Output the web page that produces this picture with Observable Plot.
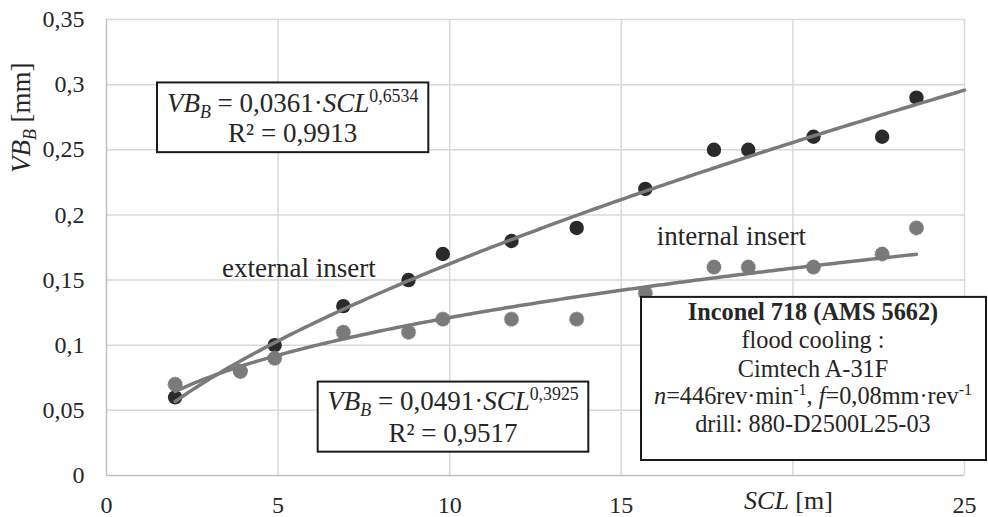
<!DOCTYPE html>
<html>
<head>
<meta charset="utf-8">
<script src="https://cdn.jsdelivr.net/npm/d3@7"></script>
<script src="https://cdn.jsdelivr.net/npm/@observablehq/plot@0.6"></script>
<style>
  html, body { margin: 0; padding: 0; background: #fff; }
  #chart svg { display: block; }
</style>
</head>
<body>
<div id="chart"></div>
<script>
// ---- data ----
const scl = [2, 3.9, 4.9, 6.9, 8.8, 9.8, 11.8, 13.7, 15.7, 17.7, 18.7, 20.6, 22.6, 23.6];
const vbExternal = [0.06, 0.08, 0.10, 0.13, 0.15, 0.17, 0.18, 0.19, 0.22, 0.25, 0.25, 0.26, 0.26, 0.29];
const vbInternal = [0.07, 0.08, 0.09, 0.11, 0.11, 0.12, 0.12, 0.12, 0.14, 0.16, 0.16, 0.16, 0.17, 0.19];
// power trend lines VB = a * SCL^b (from the chart's equations)
const fitExternal = {a: 0.0361, b: 0.6534, from: 2, to: 25};
const fitInternal = {a: 0.0491, b: 0.3925, from: 2, to: 23.6};
const xTicks = [0, 5, 10, 15, 20, 25];
const yTicks = [0, 0.05, 0.1, 0.15, 0.2, 0.25, 0.3, 0.35];

const ext = scl.map((x, i) => ({x, y: vbExternal[i]}));
const int = scl.map((x, i) => ({x, y: vbInternal[i]}));
const curve = f => d3.range(f.from, f.to + 1e-9, 0.1).concat([f.to]).map(x => ({x, y: f.a * Math.pow(x, f.b)}));

// annotation boxes (data units)
const boxes = [
  {x1: 1.486, x2: 9.391, y1: 0.3013, y2: 0.2478},
  {x1: 6.168, x2: 14.053, y1: 0.0717, y2: 0.0179},
  {x1: 15.589, x2: 25.641, y1: 0.1367, y2: 0.0115}
];

const FONT = "'Liberation Serif', 'Times New Roman', serif";
const comma = d => String(+(+d).toFixed(2)).replace(".", ",");

const plot = Plot.plot({
  width: 988,
  height: 517,
  marginLeft: 106,
  marginRight: 24,
  marginTop: 19,
  marginBottom: 42,
  style: {fontFamily: FONT, fontSize: "24px", color: "#262626", background: "#fff"},
  x: {domain: [0, 25]},
  y: {domain: [0, 0.35]},
  marks: [
    Plot.gridY(yTicks.slice(1), {stroke: "#d9d9d9", strokeOpacity: 1, strokeWidth: 1.5}),
    Plot.gridX(xTicks.slice(1), {stroke: "#d9d9d9", strokeOpacity: 1, strokeWidth: 1.5}),
    Plot.ruleY([0], {stroke: "#bfbfbf", strokeWidth: 1.5}),
    Plot.ruleX([0], {stroke: "#bfbfbf", strokeWidth: 1.5}),
    Plot.axisY(yTicks, {tickSize: 0, tickPadding: 22, tickFormat: comma, fontSize: 24, fontFamily: FONT}),
    Plot.axisX(xTicks, {tickSize: 0, tickPadding: 20, tickFormat: d => d === 20 ? "" : String(d), fontSize: 24, fontFamily: FONT, label: null}),
    Plot.dot(ext, {x: "x", y: "y", r: 7.2, fill: "#2a2a2a", stroke: "none"}),
    Plot.dot(int, {x: "x", y: "y", r: 7.2, fill: "#7a7a7a", stroke: "#969696", strokeWidth: 1, strokeDasharray: "1.5,1.5"}),
    Plot.line(curve(fitExternal), {x: "x", y: "y", stroke: "#7a7a7a", strokeWidth: 3.5}),
    Plot.line(curve(fitInternal), {x: "x", y: "y", stroke: "#7a7a7a", strokeWidth: 3.5}),
    Plot.rect(boxes, {x1: "x1", x2: "x2", y1: "y1", y2: "y2", fill: "#fff", stroke: "#1a1a1a", strokeWidth: 2})
  ]
});

document.getElementById("chart").appendChild(plot);

// ---- rich text annotations ----
const sx = plot.scale("x"), sy = plot.scale("y");
const svg = d3.select(plot);

function rich(x, y, segs, opts = {}) {
  const fs = opts.size || 27;
  const t = svg.append("text")
    .attr("x", sx.apply(x)).attr("y", sy.apply(y))
    .attr("text-anchor", opts.anchor || "middle")
    .attr("font-family", FONT)
    .attr("font-size", fs)
    .attr("fill", "#262626");
  if (opts.rotate) t.attr("transform", `rotate(-90 ${sx.apply(x)} ${sy.apply(y)})`);
  let shift = 0;
  for (const s of segs) {
    const seg = typeof s === "string" ? {t: s} : s;
    let target = 0;
    let size = fs;
    if (seg.sub) { target = 0.22 * fs; size = 0.66 * fs; }
    if (seg.sup) { target = -0.36 * fs; size = 0.66 * fs; }
    const ts = t.append("tspan").text(seg.t)
      .attr("font-size", size)
      .attr("dy", target - shift);
    shift = target;
    if (seg.i) ts.attr("font-style", "italic");
    if (seg.b) ts.attr("font-weight", "bold");
  }
  return t;
}

// equation box 1 (external)
rich(5.437, 0.2788, [{t: "VB", i: true}, {t: "B", i: true, sub: true}, " = 0,0361·", {t: "SCL", i: true}, {t: "0,6534", sup: true}]);
rich(5.437, 0.2558, ["R² = 0,9913"]);
// equation box 2 (internal)
rich(10.111, 0.0499, [{t: "VB", i: true}, {t: "B", i: true, sub: true}, " = 0,0491·", {t: "SCL", i: true}, {t: "0,3925", sup: true}]);
rich(10.111, 0.0256, ["R² = 0,9517"]);
// series labels
rich(3.38, 0.1521, ["external insert"], {anchor: "start"});
rich(16.046, 0.1767, ["internal insert"], {anchor: "start"});
// info box
rich(20.6, 0.1190, [{t: "Inconel 718 (AMS 5662)", b: true}], {size: 24.3});
rich(20.6, 0.0973, ["flood cooling :"], {size: 24.3});
rich(20.6, 0.0755, ["Cimtech A-31F"], {size: 24.3});
rich(20.6, 0.0545, [{t: "n", i: true}, "=446rev·min", {t: "-1", sup: true}, ", ", {t: "f", i: true}, "=0,08mm·rev", {t: "-1", sup: true}], {size: 24.3});
rich(20.6, 0.0333, ["drill: 880-D2500L25-03"], {size: 24.3});
// axis titles
rich(19.886, -0.0258, [{t: "SCL", i: true}, " [m]"], {size: 26});
rich(-2.214, 0.2742, [{t: "VB", i: true}, {t: "B", i: true, sub: true}, " [mm]"], {rotate: true});
</script>
</body>
</html>
